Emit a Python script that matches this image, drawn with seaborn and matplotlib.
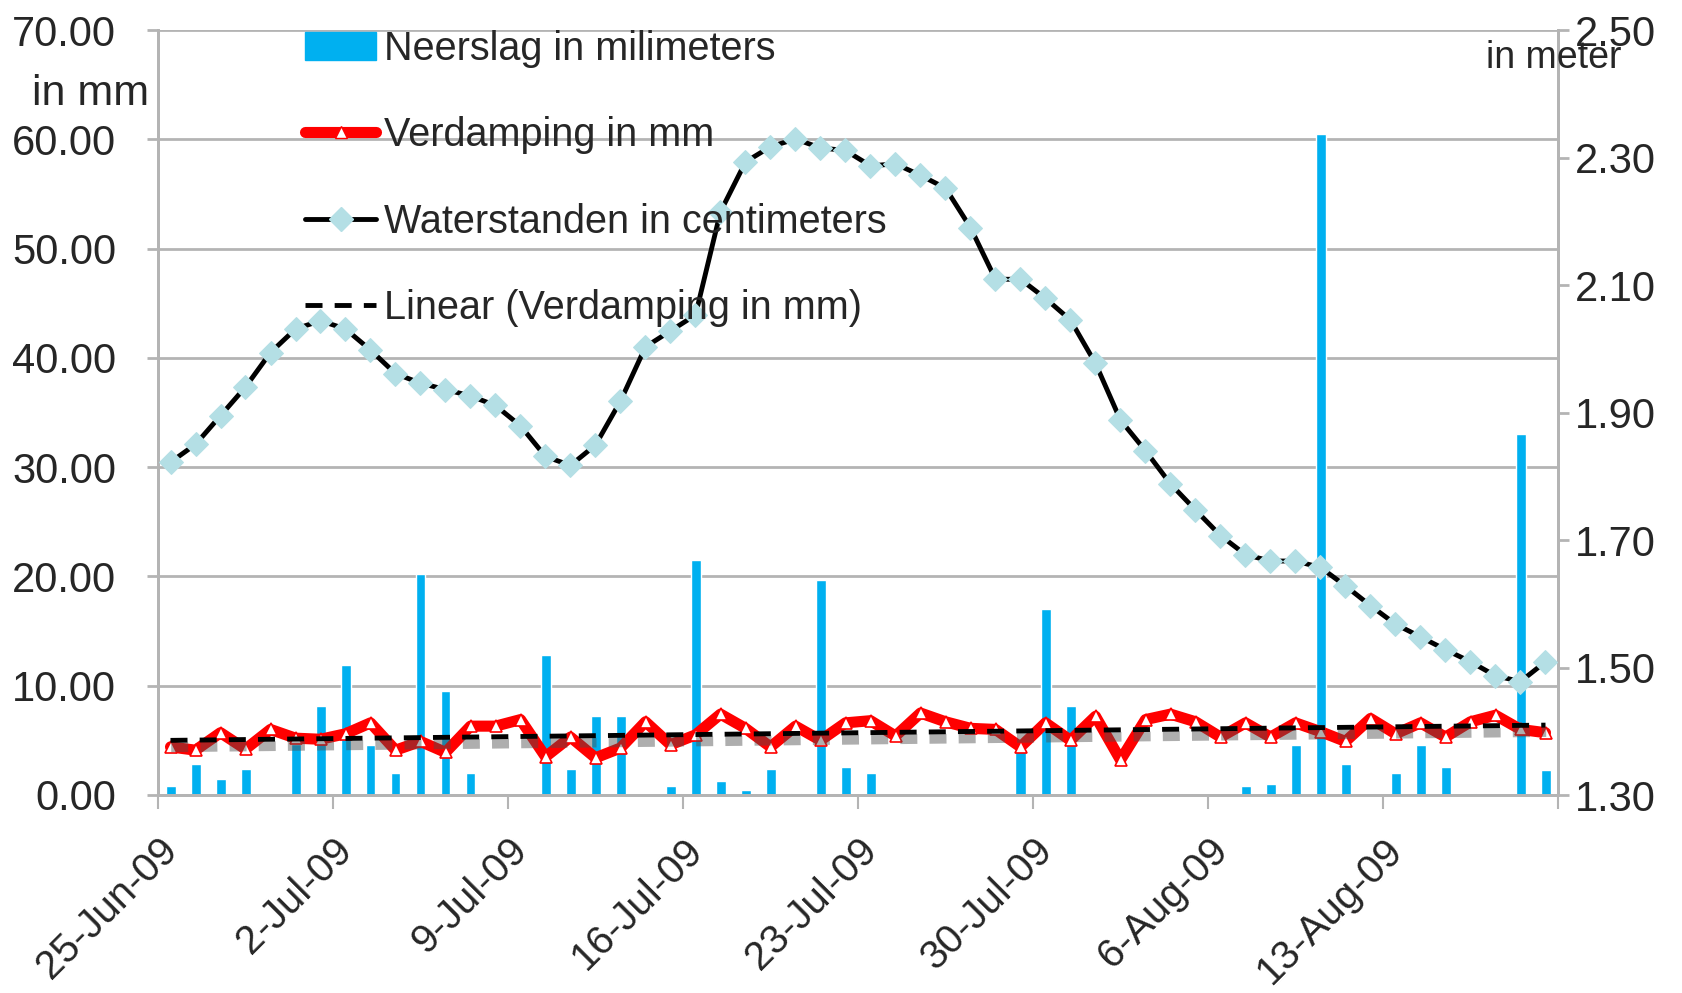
import numpy as np
import pandas as pd
import matplotlib
matplotlib.use("Agg")
import matplotlib.pyplot as plt
import matplotlib.patheffects as pe
import matplotlib.transforms as mtransforms
from matplotlib.lines import Line2D
import seaborn as sns

# daily values, 25-Jun-09 .. 19-Aug-09
dates = pd.date_range("2009-06-25", periods=56, freq="D")

neerslag = [0.8, 2.8, 1.5, 2.4, 0.0, 4.7, 8.1, 11.9, 4.6, 2.0,
            20.2, 9.5, 2.0, 0.0, 0.0, 12.8, 2.4, 7.2, 7.2, 0.0,
            0.8, 21.5, 1.3, 0.5, 2.4, 0.2, 19.7, 2.6, 2.0, 0.0,
            0.0, 0.0, 0.0, 0.0, 4.4, 17.0, 8.1, 0.2, 0.0, 0.2,
            0.0, 0.0, 0.0, 0.8, 1.0, 4.6, 60.5, 2.8, 0.0, 2.0,
            4.6, 2.6, 0.2, 0.0, 33.0, 2.3]

verdamping = [4.4, 4.1, 5.7, 4.2, 6.0, 5.2, 5.1, 5.6, 6.6, 4.1,
              4.9, 3.9, 6.3, 6.3, 6.9, 3.5, 5.3, 3.4, 4.3, 6.7,
              4.6, 5.5, 7.4, 6.1, 4.4, 6.3, 5.0, 6.6, 6.8, 5.4,
              7.5, 6.7, 6.1, 6.0, 4.4, 6.6, 5.0, 7.2, 3.2, 6.9,
              7.4, 6.7, 5.3, 6.6, 5.3, 6.6, 5.8, 4.9, 7.0, 5.6,
              6.6, 5.3, 6.7, 7.3, 6.0, 5.7]

waterstand = [1.822, 1.850, 1.895, 1.940, 1.994, 2.031, 2.044, 2.031, 1.998, 1.961,
              1.946, 1.936, 1.926, 1.911, 1.879, 1.831, 1.817, 1.849, 1.918, 2.003,
              2.028, 2.053, 2.215, 2.293, 2.317, 2.329, 2.315, 2.311, 2.287, 2.290,
              2.272, 2.252, 2.190, 2.109, 2.109, 2.079, 2.045, 1.977, 1.888, 1.840,
              1.788, 1.747, 1.707, 1.677, 1.667, 1.667, 1.657, 1.628, 1.597, 1.568,
              1.548, 1.528, 1.509, 1.487, 1.478, 1.509]

left_ticks = [0, 10, 20, 30, 40, 50, 60, 70]
right_ticks = [1.30, 1.50, 1.70, 1.90, 2.10, 2.30, 2.50]

df = pd.DataFrame({"date": dates, "neerslag": neerslag,
                   "verdamping": verdamping, "waterstand": waterstand})
# x in days since first date, points sit in the middle of each day
df["x"] = (df["date"] - dates[0]).dt.days + 0.5

sns.set_theme(style="white")
plt.rcParams["font.family"] = ["Liberation Sans", "DejaVu Sans"]

BLUE = "#00B0F0"
GRID = "#b4b4b4"
DIAMOND = "#B4DFE5"

fig = plt.figure(figsize=(16.82, 9.93), dpi=100)
ax = fig.add_axes([158 / 1682, 1 - 795 / 993, 1400 / 1682, 765 / 993])
ax2 = ax.twinx()

sns.barplot(data=df, x="x", y="neerslag", native_scale=True, width=0.4,
            color=BLUE, saturation=1, ax=ax, zorder=2)
sns.lineplot(data=df, x="x", y="verdamping", ax=ax, color="red", lw=8,
             marker="^", markersize=8, markerfacecolor="white", markeredgecolor="red",
             markeredgewidth=1.2, zorder=3)

# linear trend of the evaporation
coef = np.polyfit(df["x"], df["verdamping"], 1)
trend = np.polyval(coef, df["x"])
ax.plot(df["x"], trend, color="black", lw=3.5, dashes=(3.5, 2.5), zorder=4,
        path_effects=[pe.SimpleLineShadow(offset=(0.5, -5), shadow_color="0.3",
                                          alpha=0.45, linewidth=7),
                      pe.Normal()])

sns.lineplot(data=df, x="x", y="waterstand", ax=ax2, color="black", lw=3.5,
             marker="D", markersize=12, markerfacecolor=DIAMOND,
             markeredgecolor=DIAMOND, zorder=5)

# axes ranges / ticks
ax.set_xlim(0, 56)
ax.set_ylim(0, 70)
ax2.set_ylim(1.30, 2.50)
ax.set_yticks(left_ticks)
ax.set_yticklabels([f"{v:.2f}" for v in left_ticks])
ax2.set_yticks(right_ticks)
ax2.set_yticklabels([f"{v:.2f}" for v in right_ticks])

xt = list(range(0, 57, 7))
ax.set_xticks(xt)
xlabels = [f"{d.day}-{d.strftime('%b')}-09" for d in pd.date_range("2009-06-25", periods=8, freq="7D")]
ax.set_xticklabels(xlabels + [""], rotation=45, ha="right", va="top", rotation_mode="anchor")
shift = mtransforms.ScaledTranslation(12 / 100, 0, fig.dpi_scale_trans)
for lab in ax.get_xticklabels():
    lab.set_transform(lab.get_transform() + shift)
ax.set_xlabel("")
ax.set_ylabel("")
ax2.set_ylabel("")

ax.yaxis.grid(True, color=GRID, lw=2)
ax.xaxis.grid(False)
ax2.grid(False)
ax.set_axisbelow(True)

for a in (ax, ax2):
    for side in ("left", "right", "bottom"):
        a.spines[side].set_color(GRID)
        a.spines[side].set_linewidth(2)
    a.spines["top"].set_visible(False)

ax.tick_params(axis="y", labelsize=30, length=8, width=2, color=GRID, pad=22, left=True)
ax.tick_params(axis="x", labelsize=29, length=10, width=1.5, color=GRID, pad=16, bottom=True)
ax2.tick_params(axis="y", labelsize=30, length=8, width=2, color=GRID, pad=4, right=True)

# legend with proxy handles (no shadow on the trend entry)
handles = [
    plt.Rectangle((0, 0), 1, 1, color=BLUE),
    Line2D([], [], color="red", lw=8, marker="^", markersize=8,
           markerfacecolor="white", markeredgecolor="red"),
    Line2D([], [], color="black", lw=3.5, marker="D", markersize=12,
           markerfacecolor=DIAMOND, markeredgecolor=DIAMOND),
    Line2D([], [], color="black", lw=3.5, dashes=(3.5, 2.5)),
]
labels = ["Neerslag in milimeters", "Verdamping in mm",
          "Waterstanden in centimeters", "Linear (Verdamping in mm)"]
ax2.legend(handles, labels, loc="upper left",
           bbox_to_anchor=(305 / 1682, 1 - 30 / 993), bbox_transform=fig.transFigure,
           frameon=False, fontsize=28.5, handlelength=1.8, handletextpad=0.2,
           labelspacing=1.22, borderpad=0, borderaxespad=0)

fig.text(32 / 1682, 1 - 94 / 993, "in mm", fontsize=31, va="center", ha="left")
fig.text(1486 / 1682, 1 - 58 / 993, "in meter", fontsize=27, va="center", ha="left")

fig.savefig("out.png", dpi=100)
